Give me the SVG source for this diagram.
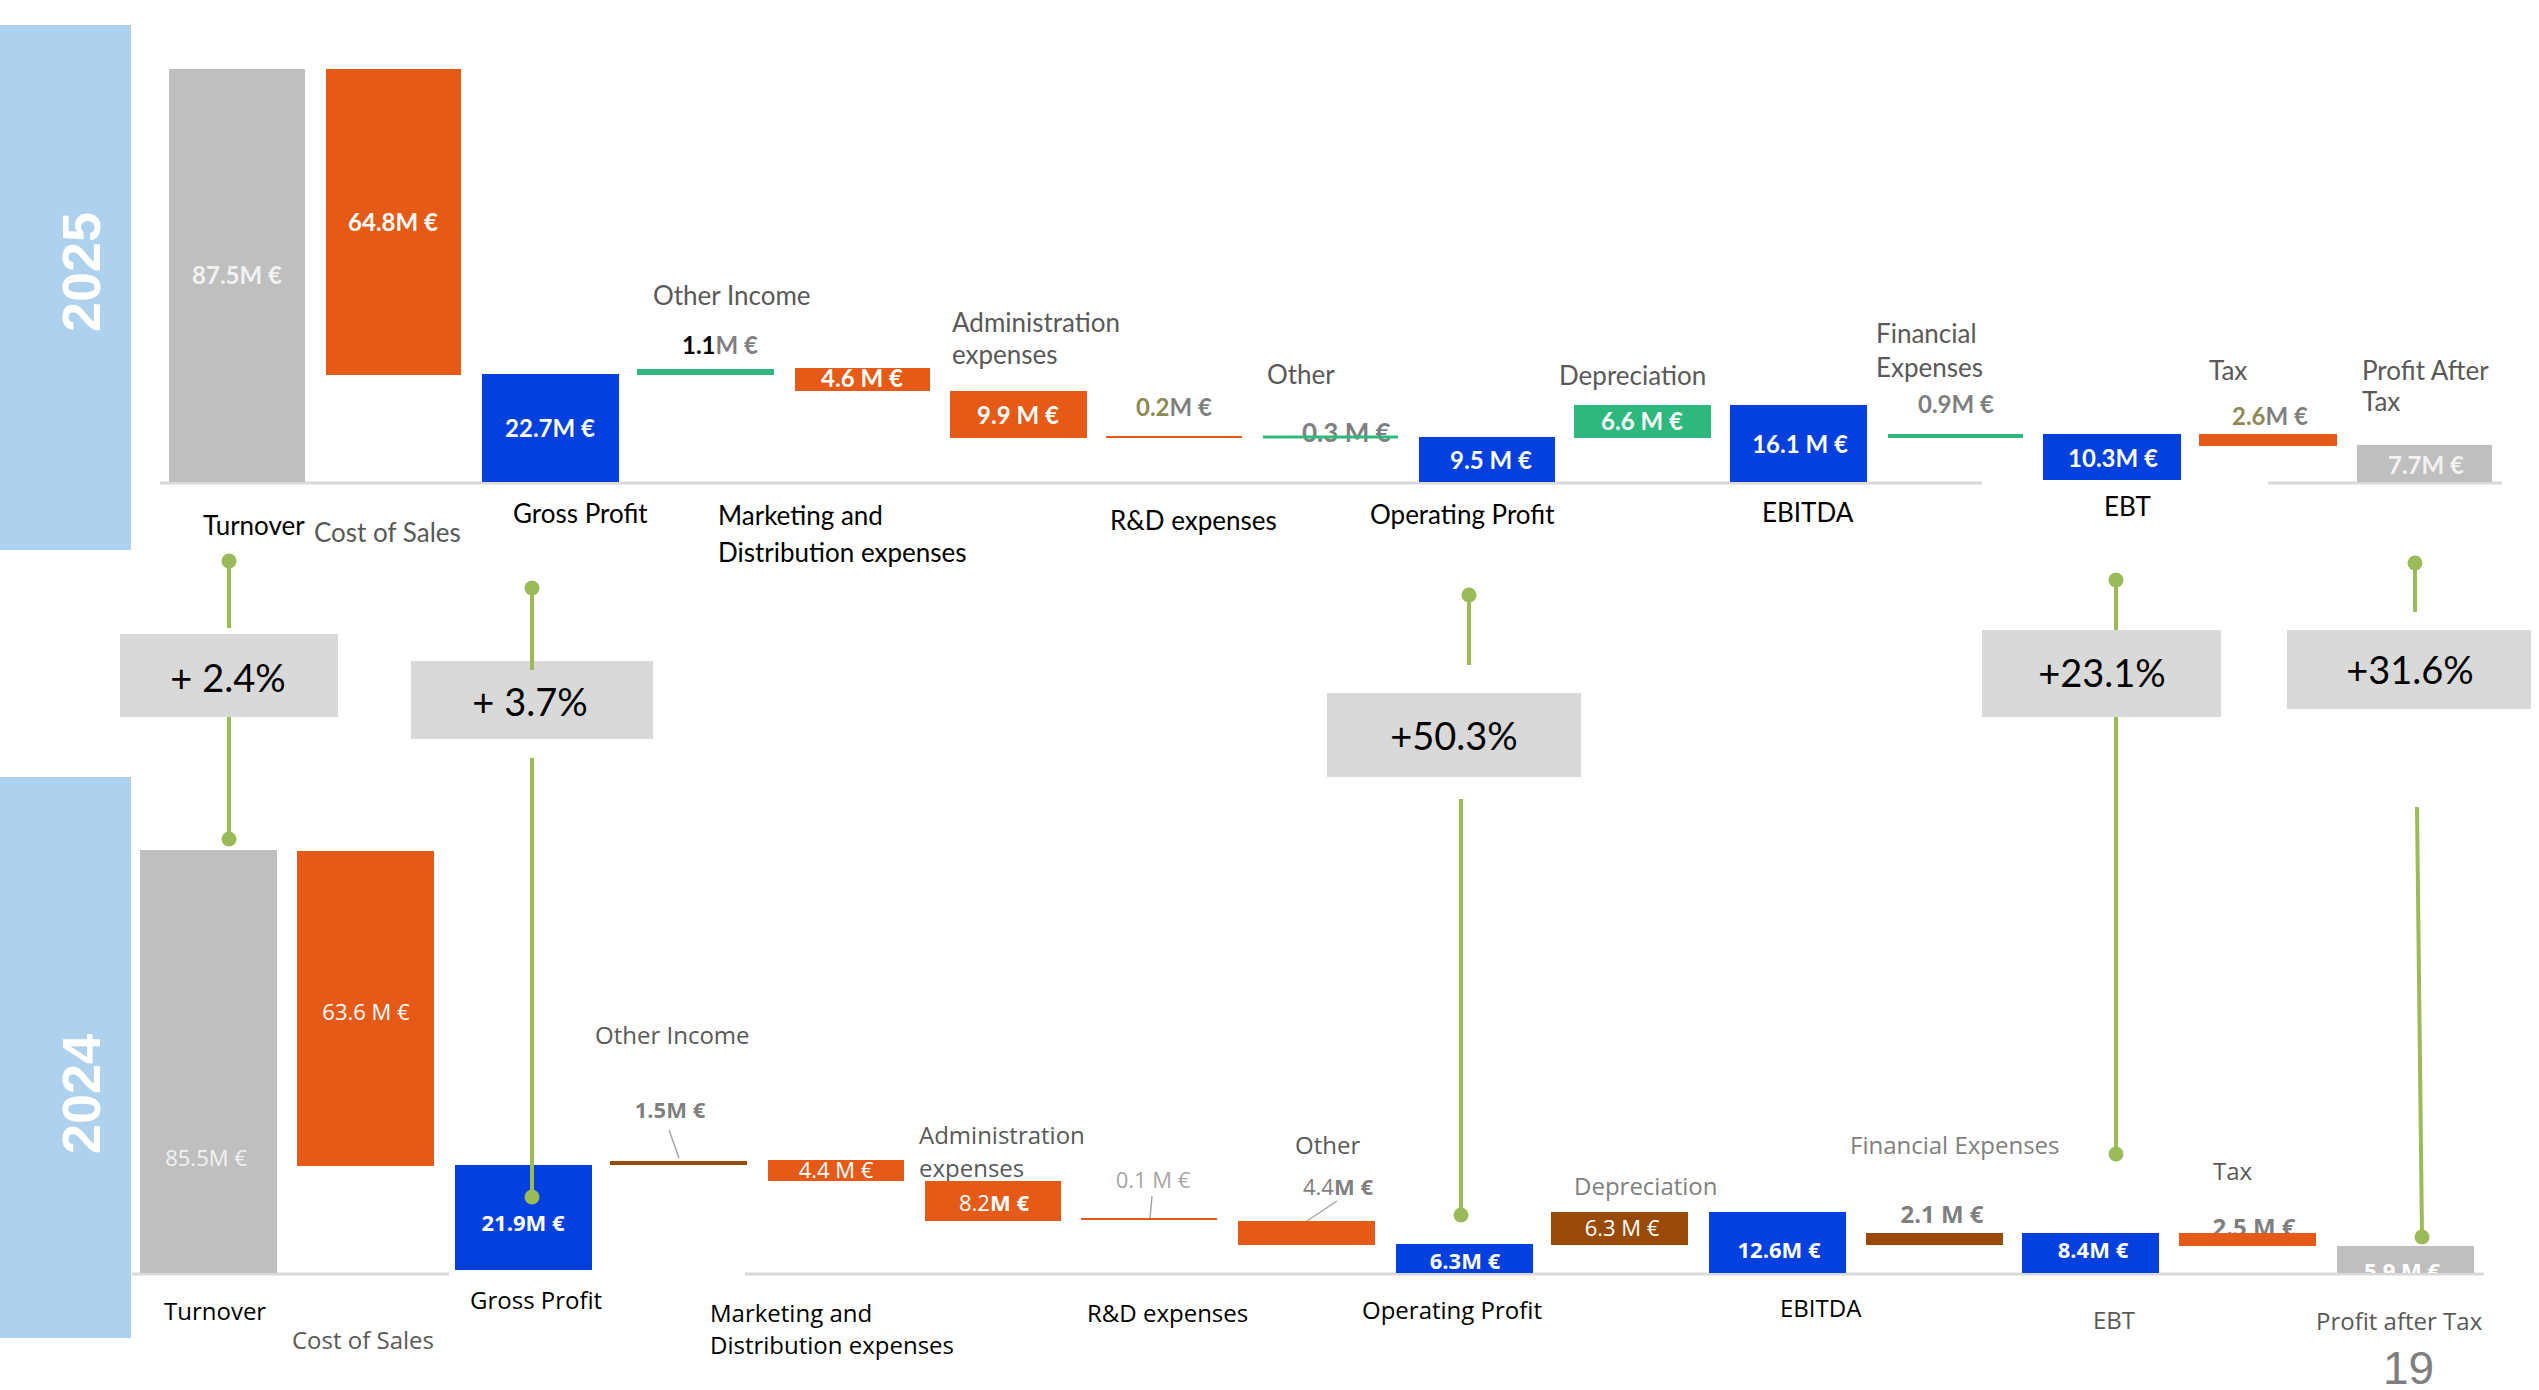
<svg xmlns="http://www.w3.org/2000/svg" width="2539" height="1390" viewBox="0 0 2539 1390">
<style>
.bg{fill:#FFFFFF}
.band{fill:#AED1EE}
.yr{font-family:"Liberation Sans",Arial,sans-serif;font-weight:bold;font-size:54px;fill:#FFFFFF}
.gray{fill:#BFBFBF}
.org{fill:#E65A17}
.blue{fill:#0340DE}
.grn{fill:#2EB87E}
.brn{fill:#994A08}
.base{stroke:#D9D9D9;stroke-width:3;fill:none}
.lu{font-family:Lato,"Open Sans",sans-serif;font-size:26px}
.vu{font-family:Lato,"Open Sans",sans-serif;font-size:24px;font-weight:bold}
.ll{font-family:"Open Sans","Noto Sans",sans-serif;font-size:24px}
.vl{font-family:"Open Sans","Noto Sans",sans-serif;font-size:22px}
.b{font-weight:bold}
.k{fill:#000000}
.g5{fill:#595959}
.g7{fill:#7F7F7F}
.ga{fill:#A6A6A6}
.ol{fill:#8E8A55}
.w{fill:#FFFFFF}
.wl{fill:#F2F2F2}
.m{text-anchor:middle}
.pbox{fill:#D9D9D9}
.pt{font-family:Lato,"Open Sans",sans-serif;font-size:38px;fill:#000000;text-anchor:middle}
.con{stroke:#9BBB59;stroke-width:4;fill:none}
.dot{fill:#9BBB59}
.lead{stroke:#A6A6A6;stroke-width:1.5;fill:none}
</style>
<defs>
<clipPath id="patclip"><rect x="2337" y="1246" width="137" height="27"/></clipPath>
</defs>
<rect class="bg" x="0" y="0" width="2539" height="1390"/>

<g id="year-2025">
<rect class="band" x="0" y="25" width="131" height="525"/>
<text class="yr" transform="translate(100,272) rotate(-90)" text-anchor="middle">2025</text>
</g>
<g id="year-2024">
<rect class="band" x="0" y="777" width="131" height="561"/>
<text class="yr" transform="translate(100,1094) rotate(-90)" text-anchor="middle">2024</text>
</g>

<g id="baselines">
<line class="base" x1="160" y1="483" x2="1982" y2="483"/>
<line class="base" x1="2268" y1="483" x2="2502" y2="483"/>
<line class="base" x1="132" y1="1274" x2="449" y2="1274"/>
<line class="base" x1="745" y1="1274" x2="2484" y2="1274"/>
</g>

<!-- 2025 -->
<g id="n2025-turnover">
<rect class="gray" x="169" y="69" width="136" height="413"/>
<text class="vu wl m" x="237" y="284">87.5M €</text>
<text class="lu k" x="203" y="535">Turnover</text>
</g>
<g id="n2025-cos">
<rect class="org" x="326" y="69" width="135" height="306"/>
<text class="vu w m" x="393" y="231">64.8M €</text>
<text class="lu g5" x="314" y="542">Cost of Sales</text>
</g>
<g id="n2025-gp">
<rect class="blue" x="482" y="374" width="137" height="108"/>
<text class="vu w m" x="550" y="437">22.7M €</text>
<text class="lu k" x="513" y="523">Gross Profit</text>
</g>
<g id="n2025-oi">
<rect class="grn" x="637" y="369" width="137" height="6"/>
<text class="lu g5" x="653" y="305">Other Income</text>
<text class="vu" x="682" y="354"><tspan class="k">1.1</tspan><tspan class="g7">M €</tspan></text>
</g>
<g id="n2025-mkt">
<rect class="org" x="795" y="368" width="135" height="23"/>
<text class="vu w m" x="862" y="387">4.6 M €</text>
<text class="lu k" x="718" y="525">Marketing and</text>
<text class="lu k" x="718" y="562">Distribution expenses</text>
</g>
<g id="n2025-adm">
<rect class="org" x="950" y="391" width="137" height="47"/>
<text class="vu w m" x="1018" y="424">9.9 M €</text>
<text class="lu g5" x="952" y="332">Administration</text>
<text class="lu g5" x="952" y="364">expenses</text>
</g>
<g id="n2025-rd">
<rect class="org" x="1106" y="436" width="136" height="2"/>
<text class="vu m" x="1174" y="416"><tspan class="ol">0.2</tspan><tspan class="g7">M €</tspan></text>
<text class="lu k" x="1110" y="530">R&amp;D expenses</text>
</g>
<g id="n2025-other">
<text class="lu g5" x="1267" y="384">Other</text>
<text class="vu g7" x="1302" y="442" style="font-size:26px">0.3 M €</text>
<rect class="grn" x="1263" y="435.5" width="135" height="3"/>
</g>
<g id="n2025-op">
<rect class="blue" x="1419" y="437" width="136" height="45"/>
<text class="vu w m" x="1491" y="469">9.5 M €</text>
<text class="lu k" x="1370" y="524">Operating Profit</text>
</g>
<g id="n2025-dep">
<rect class="grn" x="1574" y="405" width="137" height="33"/>
<text class="vu w m" x="1642" y="430">6.6 M €</text>
<text class="lu g5" x="1559" y="385">Depreciation</text>
</g>
<g id="n2025-ebitda">
<rect class="blue" x="1730" y="405" width="137" height="77"/>
<text class="vu w m" x="1800" y="453">16.1 M €</text>
<text class="lu k" x="1762" y="522">EBITDA</text>
</g>
<g id="n2025-fin">
<rect class="grn" x="1888" y="434" width="135" height="4"/>
<text class="lu g5" x="1876" y="343">Financial</text>
<text class="lu g5" x="1876" y="377">Expenses</text>
<text class="vu g7 m" x="1956" y="413">0.9M €</text>
</g>
<g id="n2025-ebt">
<rect class="blue" x="2043" y="434" width="138" height="46"/>
<text class="vu w m" x="2113" y="467">10.3M €</text>
<text class="lu k" x="2104" y="516">EBT</text>
</g>
<g id="n2025-tax">
<rect class="org" x="2199" y="434" width="138" height="12"/>
<text class="lu g5" x="2209" y="380">Tax</text>
<text class="vu m" x="2270" y="425"><tspan class="ol">2.6</tspan><tspan class="g7">M €</tspan></text>
</g>
<g id="n2025-pat">
<rect class="gray" x="2357" y="445" width="135" height="37"/>
<text class="vu wl m" x="2426" y="474">7.7M €</text>
<text class="lu g5" x="2362" y="380">Profit After</text>
<text class="lu g5" x="2362" y="411">Tax</text>
</g>

<!-- 2024 -->
<g id="n2024-turnover">
<rect class="gray" x="140" y="850" width="137" height="423"/>
<text class="vl wl m" x="206" y="1166">85.5M €</text>
<text class="ll k" x="164" y="1320">Turnover</text>
</g>
<g id="n2024-cos">
<rect class="org" x="297" y="851" width="137" height="315"/>
<text class="vl w m" x="366" y="1020">63.6 M €</text>
<text class="ll g5" x="292" y="1349">Cost of Sales</text>
</g>
<g id="n2024-gp">
<rect class="blue" x="455" y="1165" width="137" height="105"/>
<text class="vl w m b" x="523" y="1231">21.9M €</text>
<text class="ll k" x="470" y="1309">Gross Profit</text>
</g>
<g id="n2024-oi">
<text class="ll g5" x="595" y="1044">Other Income</text>
<text class="vl g7 m b" x="670" y="1118">1.5M €</text>
<line class="lead" x1="669" y1="1130" x2="679" y2="1158"/>
<rect class="brn" x="610" y="1161" width="137" height="4"/>
</g>
<g id="n2024-mkt">
<rect class="org" x="768" y="1160" width="136" height="21"/>
<text class="vl w m" x="836" y="1178">4.4 M €</text>
<text class="ll k" x="710" y="1322">Marketing and</text>
<text class="ll k" x="710" y="1354">Distribution expenses</text>
</g>
<g id="n2024-adm">
<text class="ll g5" x="919" y="1144">Administration</text>
<text class="ll g5" x="919" y="1177">expenses</text>
<rect class="org" x="925" y="1181" width="136" height="40"/>
<text class="vl w m" x="994" y="1211">8.2<tspan class="b">M €</tspan></text>
</g>
<g id="n2024-rd">
<rect class="org" x="1081" y="1218" width="136" height="2"/>
<text class="vl ga m" x="1153" y="1188">0.1 M €</text>
<line class="lead" x1="1152" y1="1196" x2="1150" y2="1218"/>
<text class="ll k" x="1087" y="1322">R&amp;D expenses</text>
</g>
<g id="n2024-other">
<text class="ll g5" x="1295" y="1154">Other</text>
<rect class="org" x="1238" y="1221" width="137" height="24"/>
<text class="vl g7 m" x="1338" y="1195">4.4<tspan class="b">M €</tspan></text>
<line class="lead" x1="1337" y1="1201" x2="1307" y2="1221"/>
</g>
<g id="n2024-op">
<rect class="blue" x="1396" y="1244" width="137" height="29"/>
<text class="vl w m b" x="1465" y="1269">6.3M €</text>
<text class="ll k" x="1362" y="1319">Operating Profit</text>
</g>
<g id="n2024-dep">
<text class="ll g7" x="1574" y="1195">Depreciation</text>
<rect class="brn" x="1551" y="1212" width="137" height="33"/>
<text class="vl w m" x="1622" y="1236">6.3 M €</text>
</g>
<g id="n2024-ebitda">
<rect class="blue" x="1709" y="1212" width="137" height="61"/>
<text class="vl w m b" x="1779" y="1258">12.6M €</text>
<text class="ll k" x="1780" y="1317">EBITDA</text>
</g>
<g id="n2024-fin">
<text class="ll g7" x="1850" y="1154">Financial Expenses</text>
<text class="vl g7 m b" x="1942" y="1223" style="font-size:24px">2.1 M €</text>
<rect class="brn" x="1866" y="1233" width="137" height="12"/>
</g>
<g id="n2024-ebt">
<rect class="blue" x="2022" y="1233" width="137" height="40"/>
<text class="vl w m b" x="2093" y="1258">8.4M €</text>
<text class="ll g5" x="2093" y="1329">EBT</text>
</g>
<g id="n2024-tax">
<text class="ll g5" x="2213" y="1180">Tax</text>
<text class="vl g7 m b" x="2254" y="1236" style="font-size:24px">2.5 M €</text>
<rect class="org" x="2179" y="1233" width="137" height="13"/>
</g>
<g id="n2024-pat">
<rect class="gray" x="2337" y="1246" width="137" height="27"/>
<text class="vl w m b" x="2402" y="1279" clip-path="url(#patclip)">5.9 M €</text>
<text class="ll g5" x="2316" y="1330">Profit after Tax</text>
</g>

<g id="connectors">
<line class="con" x1="229" y1="561" x2="229" y2="628"/>
<line class="con" x1="229" y1="717" x2="229" y2="839"/>
<circle class="dot" cx="229" cy="561" r="7.5"/>
<circle class="dot" cx="229" cy="839" r="7.5"/>

<line class="con" x1="532" y1="758" x2="532" y2="1197"/>
<circle class="dot" cx="532" cy="588" r="7.5"/>
<circle class="dot" cx="532" cy="1197" r="7.5"/>

<line class="con" x1="1469" y1="595" x2="1469" y2="665"/>
<line class="con" x1="1461" y1="799" x2="1461" y2="1215"/>
<circle class="dot" cx="1469" cy="595" r="7.5"/>
<circle class="dot" cx="1461" cy="1215" r="7.5"/>

<line class="con" x1="2116" y1="580" x2="2116" y2="630"/>
<line class="con" x1="2116" y1="717" x2="2116" y2="1154"/>
<circle class="dot" cx="2116" cy="580" r="7.5"/>
<circle class="dot" cx="2116" cy="1154" r="7.5"/>

<line class="con" x1="2415" y1="563" x2="2415" y2="612"/>
<line class="con" x1="2417" y1="807" x2="2422" y2="1236"/>
<circle class="dot" cx="2415" cy="563" r="7.5"/>
<circle class="dot" cx="2422" cy="1237" r="7.5"/>
</g>

<g id="pct-turnover">
<rect class="pbox" x="120" y="634" width="218" height="83"/>
<text class="pt" x="228" y="692">+ 2.4%</text>
</g>
<g id="pct-gp">
<rect class="pbox" x="411" y="661" width="242" height="78"/>
<line class="con" x1="532" y1="588" x2="532" y2="670"/>
<text class="pt" x="530" y="716">+ 3.7%</text>
</g>
<g id="pct-op">
<rect class="pbox" x="1327" y="693" width="254" height="84"/>
<text class="pt" x="1454" y="750">+50.3%</text>
</g>
<g id="pct-ebt">
<rect class="pbox" x="1982" y="630" width="239" height="87"/>
<text class="pt" x="2102" y="687">+23.1%</text>
</g>
<g id="pct-pat">
<rect class="pbox" x="2287" y="630" width="244" height="79"/>
<text class="pt" x="2410" y="684">+31.6%</text>
</g>

<g id="page-number">
<text x="2383" y="1384" style="font-family:'Liberation Sans',Arial,sans-serif;font-size:46px;fill:#7F7F7F">19</text>
</g>
</svg>
